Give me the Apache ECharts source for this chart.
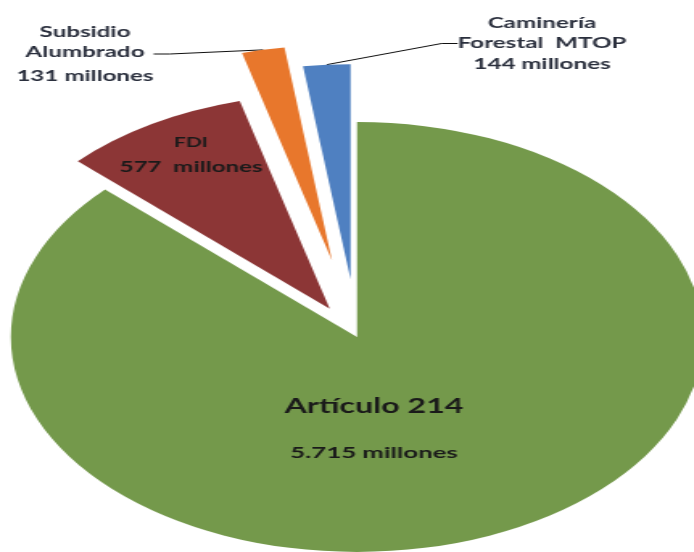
<!DOCTYPE html>
<html><head><meta charset="utf-8">
<script src="https://cdn.jsdelivr.net/npm/echarts@6/dist/echarts.min.js"></script>
<style>
html,body{margin:0;padding:0;background:#fff;overflow:hidden}
#wrap{width:694px;height:552px;overflow:hidden;position:relative}
#c{height:552px;transform-origin:0 0;position:absolute;left:0;top:0}
</style></head>
<body><div id="wrap"><div id="c"></div></div>
<script>
// ---- data ----
const categories = ['Artículo 214', 'FDI', 'Subsidio\nAlumbrado', 'Caminería\nForestal  MTOP'];
const values = [5715, 577, 131, 144];
const valueLabels = ['5.715 millones', '577  millones', '131 millones', '144 millones'];

// ---- layout / style ----
const S = 1.61;                 // horizontal stretch of the original picture
const W = 694 / S;
const el = document.getElementById('c');
el.style.width = W + 'px';
el.style.transform = 'scaleX(' + S + ')';
const CX = 357 / S, CY = 337, R = 215;
const colors = ['#74994b', '#8c3636', '#e8772c', '#4f80c1'];
const explode = [0, 33, 78, 58];
const labelCfg = [
  {x: 374, y: 430, va: 'middle', n: 20, nl: 46, v: 16, vl: 46, color: '#1a1a1a'},
  {x: 191, y: 155, va: 'middle', n: 13, nl: 24, v: 15, vl: 24, color: '#1a1a1a'},
  {x: 85,  y: 22,  va: 'top',    n: 15, nl: 20, v: 15, vl: 28, color: '#2a2f3d'},
  {x: 542, y: 13,  va: 'top',    n: 15, nl: 20, v: 15, vl: 22, color: '#2a2f3d'}
];
const FONT = 'Lato, "Open Sans", sans-serif';

const total = values.reduce((a, b) => a + b, 0);
const series = values.map((v, i) => {
  const before = values.slice(0, i).reduce((a, b) => a + b, 0);
  const theta = (before + v / 2) / total * 2 * Math.PI;
  const center = [CX + explode[i] * Math.sin(theta), CY - explode[i] * Math.cos(theta)];
  const lc = labelCfg[i];
  return {
    type: 'pie',
    radius: [0, R],
    center: center,
    startAngle: 90,
    clockwise: true,
    silent: true,
    animation: false,
    avoidLabelOverlap: false,
    emphasis: {disabled: true},
    data: values.map((vv, j) => ({
      name: categories[j],
      value: vv,
      itemStyle: {color: j === i ? colors[j] : 'rgba(0,0,0,0)', borderWidth: 0},
      label: {show: j === i},
      labelLine: {show: j === i && i >= 2}
    })),
    label: {
      position: i >= 2 ? 'outside' : 'inside',
      formatter: () => '{n|' + categories[i] + '}\n{v|' + valueLabels[i] + '}',
      color: lc.color,
      textBorderWidth: 0,
      align: 'center',
      rich: {
        n: {fontSize: lc.n, lineHeight: lc.nl, fontWeight: 'bold', fontFamily: FONT, color: lc.color, align: 'center'},
        v: {fontSize: lc.v, lineHeight: lc.vl, fontWeight: 'bold', fontFamily: FONT, color: lc.color, align: 'center'}
      }
    },
    labelLine: {length: 10, length2: 10, lineStyle: {color: '#111', width: 1}},
    labelLayout: {x: lc.x / S, y: lc.y, align: 'center', verticalAlign: lc.va}
  };
});

const chart = echarts.init(el, null, {renderer: 'canvas'});
chart.setOption({
  backgroundColor: '#fff',
  animation: false,
  series: series
});
</script>
</body></html>
